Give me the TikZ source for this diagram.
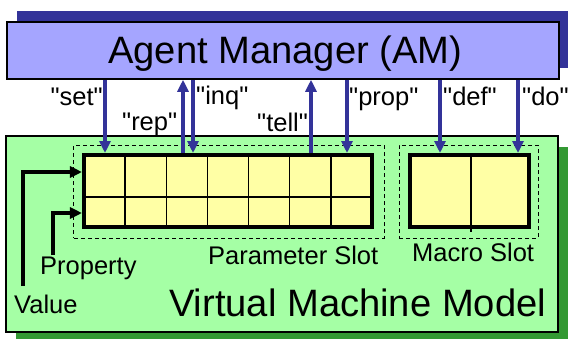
\documentclass[tikz,border=0pt]{standalone}
\usepackage{fontspec}
\setmainfont{Liberation Sans}[Ligatures=TeXOff]
\usetikzlibrary{arrows.meta}
\definecolor{amfill}{HTML}{A5A5FF}
\definecolor{amshadow}{HTML}{333399}
\definecolor{vmfill}{HTML}{A5FFA5}
\definecolor{vmshadow}{HTML}{339933}
\definecolor{cellfill}{HTML}{FFFFA5}
\definecolor{flow}{HTML}{333399}
\tikzset{
  bigtext/.style={font=\fontsize{38.3}{40}\selectfont, inner sep=0pt},
  labeltext/.style={font=\fontsize{25.6}{27}\selectfont, inner sep=0pt},
  panel/.style={draw=black, line width=1.5bp, inner sep=0pt},
  slotbox/.style={draw=black, line width=4bp, fill=cellfill, inner sep=0pt},
  slotframe/.style={draw=black, dash pattern=on 4bp off 3bp, line width=1bp, inner sep=0pt},
  cellgrid/.style={draw=black, line width=1.5bp},
  msgarrow/.style={draw=flow, line width=4bp, -{Triangle[width=11bp,length=12bp]}},
  feedarrow/.style={draw=black, line width=4bp, -{Triangle[width=11bp,length=12bp]}},
}
\begin{document}
\begin{tikzpicture}[x=1bp,y=-1bp]
\useasboundingbox (0,0) rectangle (568,338);
\clip (0,0) rectangle (568,338);

% Agent Manager with its drop shadow
\fill[amshadow] (17,11) rectangle (570,68);
\node[panel, fill=amfill, minimum width=552bp, minimum height=57bp] (am) at (283,50.5) {};
\node[bigtext, anchor=base west] (amtext) at (108,63) {Agent Manager (AM)};

% Virtual Machine Model panel with its drop shadow
\fill[vmshadow] (16,147) rectangle (570,345);
\node[panel, fill=vmfill, minimum width=552bp, minimum height=196bp] (vm) at (282,234) {};
\node[bigtext, anchor=base west] (vmtext) at (169,316) {Virtual Machine Model};

% dashed slot frames
\node[slotframe, minimum width=310bp, minimum height=93bp] (pframe) at (229,191.5) {};
\node[slotframe, minimum width=139bp, minimum height=93bp] (mframe) at (468.5,191.5) {};

% parameter slot: 7 x 2 cells
\node[slotbox, minimum width=288bp, minimum height=72bp] (pgrid) at (228,191) {};
\foreach \k in {1,...,6}
  \draw[cellgrid] ({84+41.14*\k},155) -- ({84+41.14*\k},227);
\draw[cellgrid] (84,197) -- (372,197);
\draw[slotbox, fill=none] (84,155) rectangle (372,227);

% macro slot: 2 cells
\node[slotbox, minimum width=119bp, minimum height=72bp] (mgrid) at (469.5,191) {};
\draw[black, line width=2bp] (471,155) -- (471,232);

\node[labeltext, anchor=base west] (plabel) at (208,264) {Parameter Slot};
\node[labeltext, anchor=base west] (mlabel) at (412,261) {Macro Slot};

% message arrows between the manager and the slots
\coordinate (xset) at (105,0);
\coordinate (xrep) at (183,0);
\coordinate (xinq) at (193,0);
\coordinate (xtell) at (311,0);
\coordinate (xprop) at (347,0);
\coordinate (xdef) at (440,0);
\coordinate (xdo) at (518,0);
\draw[msgarrow] (am.south -| xset) -- (pgrid.north -| xset);
\draw[msgarrow] (pgrid.north -| xrep) -- (am.south -| xrep);
\draw[msgarrow] (am.south -| xinq) -- (pgrid.north -| xinq);
\draw[msgarrow] (pgrid.north -| xtell) -- (am.south -| xtell);
\draw[msgarrow] (am.south -| xprop) -- (pgrid.north -| xprop);
\draw[msgarrow] (am.south -| xdef) -- (mgrid.north -| xdef);
\draw[msgarrow] (am.south -| xdo) -- (mgrid.north -| xdo);

\node[labeltext, anchor=base east] (lset) at (103,105) {"set"};
\node[labeltext, anchor=base west] (lrep) at (122,130) {"rep"};
\node[labeltext, anchor=base west] (linq) at (196,104) {"inq"};
\node[labeltext, anchor=base west] (ltell) at (257,131) {"tell"};
\node[labeltext, anchor=base west] (lprop) at (349,105) {"prop"};
\node[labeltext, anchor=base west] (ldef) at (443,105) {"def"};
\node[labeltext, anchor=base west] (ldo) at (522,105) {"do"};

% value and property feeds into the parameter cells
\coordinate (valfoot) at (23,286);
\coordinate (valrow) at (0,172);
\coordinate (propfoot) at (53,255);
\coordinate (proprow) at (0,213);
\draw[feedarrow] (valfoot) |- (pgrid.west |- valrow);
\draw[feedarrow] (propfoot) |- (pgrid.west |- proprow);
\node[labeltext, anchor=base west] (lprop2) at (40,274) {Property};
\node[labeltext, anchor=base west] (lval) at (14,313) {Value};
\end{tikzpicture}
\end{document}
